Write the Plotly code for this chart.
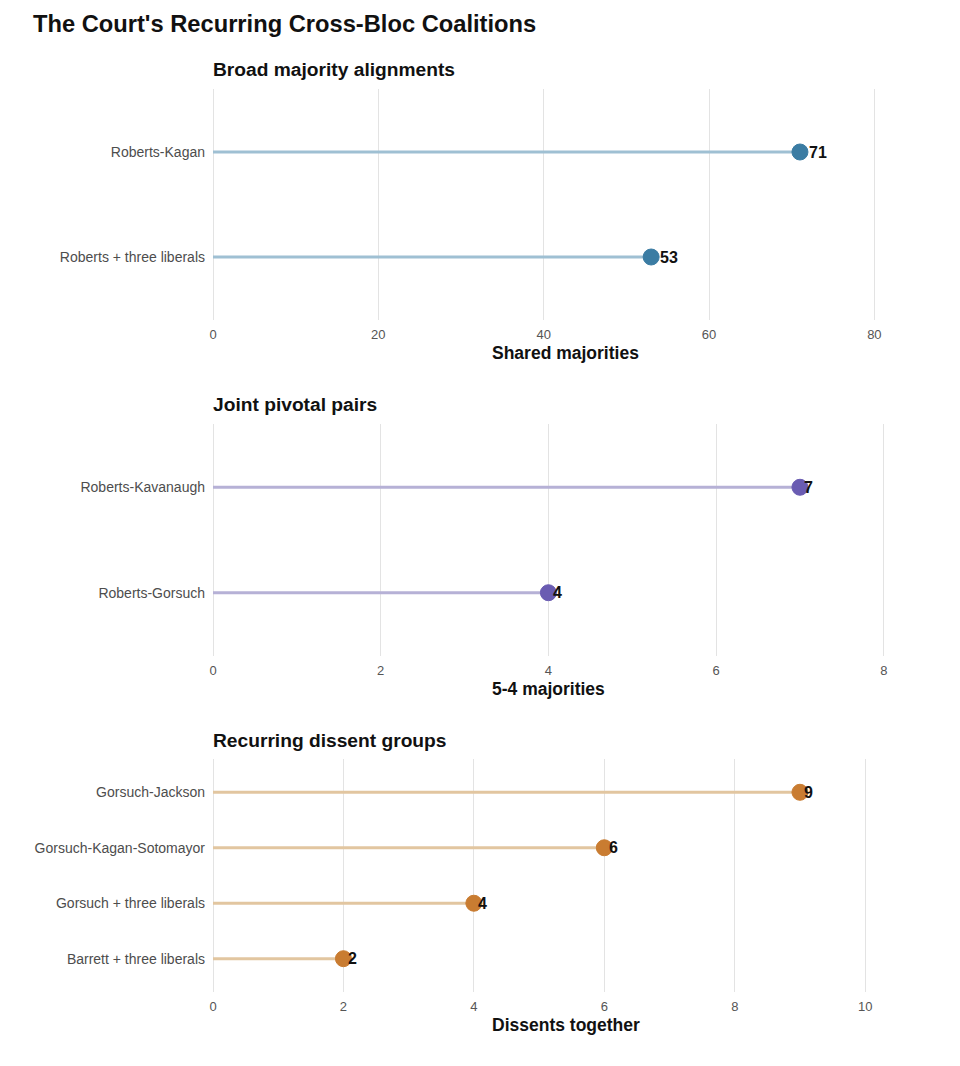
import plotly.graph_objects as go

# data
broad_labels = ["Roberts-Kagan", "Roberts + three liberals"]
broad_values = [71, 53]

pivot_labels = ["Roberts-Kavanaugh", "Roberts-Gorsuch"]
pivot_values = [7, 4]

dissent_labels = ["Gorsuch-Jackson", "Gorsuch-Kagan-Sotomayor",
                  "Gorsuch + three liberals", "Barrett + three liberals"]
dissent_values = [9, 6, 4, 2]

W, H = 960, 1066
OFF = 8  # page margin of the html body
FONT = "Liberation Sans, Arial, sans-serif"

panels = [
    dict(labels=broad_labels, values=broad_values, title="Broad majority alignments",
         xtitle="Shared majorities", xmax=81.65, dtick=20, top=89, bottom=320,
         dot="#3b7ca3", line="#9fc0d3"),
    dict(labels=pivot_labels, values=pivot_values, title="Joint pivotal pairs",
         xtitle="5-4 majorities", xmax=8.05, dtick=2, top=424, bottom=656,
         dot="#6a5cb2", line="#b6b1d6"),
    dict(labels=dissent_labels, values=dissent_values, title="Recurring dissent groups",
         xtitle="Dissents together", xmax=10.35, dtick=2, top=759, bottom=992,
         dot="#c97c31", line="#e2c6a0"),
]

x0, x1 = (213 - OFF) / W, (888 - OFF) / W

fig = go.Figure()
annotations = []

for i, p in enumerate(panels):
    n = "" if i == 0 else str(i + 1)
    xa, ya = "x" + n, "y" + n
    top, bottom = p["top"] - OFF, p["bottom"] - OFF
    # stems
    xs, ys = [], []
    for lab, v in zip(p["labels"], p["values"]):
        xs += [0, v, None]
        ys += [lab, lab, None]
    fig.add_trace(go.Scatter(x=xs, y=ys, mode="lines", xaxis=xa, yaxis=ya,
                             line=dict(color=p["line"], width=3),
                             hoverinfo="skip", showlegend=False))
    # dots
    fig.add_trace(go.Scatter(x=p["values"], y=p["labels"], mode="markers",
                             xaxis=xa, yaxis=ya, showlegend=False,
                             marker=dict(color=p["dot"], size=16,
                                         line=dict(color=p["dot"], width=1))))
    # value labels
    for lab, v in zip(p["labels"], p["values"]):
        annotations.append(dict(x=v, y=lab, xref=xa, yref=ya, text=str(v),
                                showarrow=False, xanchor="left",
                                xshift=4.5 * len(str(v)) - 2,
                                font=dict(family=FONT, size=16, color="#111111",
                                          weight="bold")))
    # panel subtitle
    annotations.append(dict(x=x0, y=1 - (top - 19) / H, xref="paper", yref="paper",
                            text="<b>" + p["title"] + "</b>", showarrow=False,
                            xanchor="left", yanchor="middle", xshift=-2,
                            font=dict(family=FONT, size=19.2, color="#111111")))
    # x axis title
    annotations.append(dict(x=(492 - OFF) / W, y=1 - (bottom + 33) / H,
                            xref="paper", yref="paper",
                            text="<b>" + p["xtitle"] + "</b>", showarrow=False,
                            xanchor="left", yanchor="middle", xshift=-2,
                            font=dict(family=FONT, size=17.5, color="#111111")))

    fig.layout["xaxis" + n] = dict(
        domain=[x0, x1], anchor=ya, range=[0, p["xmax"]], dtick=p["dtick"], tick0=0,
        showgrid=True, gridcolor="#e3e3e3", gridwidth=1,
        zeroline=True, zerolinecolor="#e3e3e3", zerolinewidth=1,
        showline=False, ticks="", automargin=False, ticklabelstandoff=5,
        tickfont=dict(family=FONT, size=13, color="#555555"),
    )
    fig.layout["yaxis" + n] = dict(
        domain=[1 - bottom / H, 1 - top / H], anchor=xa,
        type="category", categoryorder="array", categoryarray=p["labels"][::-1],
        range=[-0.6, len(p["labels"]) - 0.4],
        showgrid=False, zeroline=False, showline=False, ticks="",
        automargin=False, ticklabelstandoff=7,
        tickfont=dict(family=FONT, size=14, color="#4d4d4d"),
    )

fig.update_layout(
    width=W, height=H,
    margin=dict(l=0, r=0, t=0, b=0),
    paper_bgcolor="white", plot_bgcolor="white",
    title=dict(text="<b>The Court's Recurring Cross-Bloc Coalitions</b>",
               x=(33 - OFF) / W, xanchor="left", y=1 - (24 - OFF) / H, yanchor="middle",
               font=dict(family=FONT, size=23.7, color="#111111")),
    annotations=annotations,
)

fig.write_html("out.html")
